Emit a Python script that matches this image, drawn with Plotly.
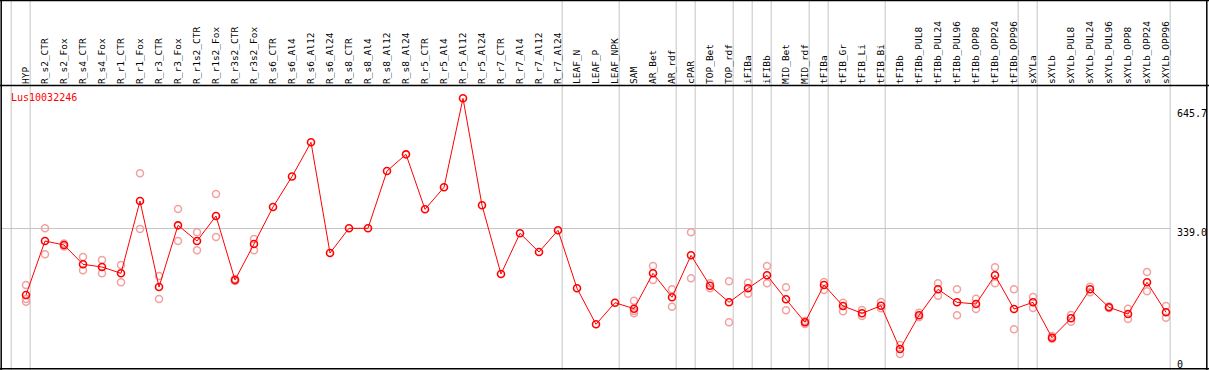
import plotly.graph_objects as go

gene = "Lus10032246"

categories = [
    "HYP", "R_s2_CTR", "R_s2_Fox", "R_s4_CTR", "R_s4_Fox", "R_r1_CTR", "R_r1_Fox",
    "R_r3_CTR", "R_r3_Fox", "R_r1s2_CTR", "R_r1s2_Fox", "R_r3s2_CTR", "R_r3s2_Fox",
    "R_s6_CTR", "R_s6_Al4", "R_s6_Al12", "R_s6_Al24", "R_s8_CTR", "R_s8_Al4",
    "R_s8_Al12", "R_s8_Al24", "R_r5_CTR", "R_r5_Al4", "R_r5_Al12", "R_r5_Al24",
    "R_r7_CTR", "R_r7_Al4", "R_r7_Al12", "R_r7_Al24", "LEAF_N", "LEAF_P", "LEAF_NPK",
    "SAM", "AR_Bet", "AR_rdf", "cPAR", "TOP_Bet", "TOP_rdf", "iFIBa", "iFIBb",
    "MID_Bet", "MID_rdf", "tFIBa", "tFIB_Gr", "tFIB_Li", "tFIB_Bi", "tFIBb",
    "tFIBb_PUL8", "tFIBb_PUL24", "tFIBb_PUL96", "tFIBb_OPP8", "tFIBb_OPP24",
    "tFIBb_OPP96", "sXYLa", "sXYLb", "sXYLb_PUL8", "sXYLb_PUL24", "sXYLb_PUL96",
    "sXYLb_OPP8", "sXYLb_OPP24", "sXYLb_OPP96",
]

means = [
    167.5, 306.7, 296.4, 246.6, 239.7, 223.4, 409.8,
    188.1, 347.1, 306.7, 371.1, 206.2, 299.0,
    394.3, 472.9, 561.1, 275.8, 339.4, 339.4,
    487.1, 530.1, 388.4, 445.1, 674.5, 398.7,
    221.6, 326.5, 278.3, 334.3, 184.8, 92.0, 147.7,
    132.2, 223.4, 161.6, 269.8, 191.5, 148.7, 184.8, 218.3,
    156.4, 97.2, 193.3, 139.2, 120.4, 139.9, 28.3,
    115.2, 182.2, 148.7, 144.3, 218.3,
    131.4, 148.7, 57.5, 107.5, 182.2, 135.8,
    118.5, 200.2, 122.9,
]

replicates = [
    [193.3, 157.2, 150.2], [339.4, 272.4], [300.2, 292.5], [265.4, 231.2],
    [257.7, 223.4], [244.8, 200.2], [481.2, 337.6], [216.5, 157.2],
    [389.2, 306.7], [329.1, 282.7], [427.8, 317.0], [208.8, 203.6],
    [311.8, 282.7],
    [], [], [], [], [], [], [], [], [], [], [], [], [], [], [], [],
    [], [], [],
    [152.8, 126.3, 120.4], [242.2, 206.2], [182.2, 137.4], [329.1, 210.6],
    [197.7, 184.8], [202.8, 97.2], [199.2, 170.9], [242.2, 197.7],
    [187.4, 128.1], [100.5, 92.8], [201.0, 180.4], [147.7, 125.5],
    [128.9, 113.4], [149.5, 133.2], [38.7, 15.5],
    [121.9, 110.0], [197.7, 165.7], [182.2, 115.2], [158.0, 131.4],
    [238.9, 197.7], [182.2, 79.1], [162.4, 134.0], [61.9, 54.1],
    [116.0, 98.7], [188.9, 174.5], [137.9, 134.0], [132.2, 105.7],
    [226.8, 177.0], [139.2, 109.0],
]

# last category index of each group (separator drawn just after it)
group_ends = [-1, 0, 28, 31, 34, 35, 37, 38, 39, 41, 42, 45, 52, 53, 60]

ref_value = 339.0
y_tickvals = [0, 339.0, 645.7]
y_ticktext = ["0", "339.0", "645.7"]

# ---- layout geometry ----
W, H = 1209, 370
ML, MR, MT, MB = 2, 38, 86, 1
PW = W - ML - MR
PH = H - MT - MB


def px_x(p):
    return (p - ML) / PW


def px_y(p):
    return (H - MB - p) / PH


idx = list(range(len(categories)))
rep_x, rep_y = [], []
for i, reps in enumerate(replicates):
    for v in reps:
        rep_x.append(i)
        rep_y.append(v)

fig = go.Figure()
fig.add_trace(go.Scatter(
    x=rep_x, y=rep_y, mode="markers",
    marker=dict(symbol="circle-open", size=7, color="#f2a0a0", line=dict(width=1.5, color="#f2a0a0")),
    hoverinfo="skip", showlegend=False,
))
fig.add_trace(go.Scatter(
    x=idx, y=means, mode="lines+markers",
    line=dict(color="#ff0000", width=1),
    marker=dict(symbol="circle-open", size=7, color="#ff0000", line=dict(width=1.6, color="#ff0000")),
    showlegend=False,
))

shapes = []
grid_col = "#c4c4c4"
for g in group_ends:
    shapes.append(dict(type="line", xref="x", yref="paper", x0=g + 0.22, x1=g + 0.22,
                       y0=px_y(H), y1=px_y(0), line=dict(color=grid_col, width=1), layer="below"))
shapes.append(dict(type="line", xref="paper", yref="y", x0=px_x(1), x1=1, y0=ref_value, y1=ref_value,
                   line=dict(color=grid_col, width=1), layer="below"))
# frame
blk = dict(color="black", width=1.5)
shapes += [
    dict(type="line", xref="paper", yref="paper", x0=px_x(0), x1=px_x(W), y0=px_y(0.5), y1=px_y(0.5), line=blk),
    dict(type="line", xref="paper", yref="paper", x0=px_x(0), x1=px_x(W), y0=px_y(368.8), y1=px_y(368.8), line=blk),
    dict(type="line", xref="paper", yref="paper", x0=px_x(0), x1=px_x(W), y0=px_y(85.5), y1=px_y(85.5), line=blk),
    dict(type="line", xref="paper", yref="paper", x0=px_x(1.2), x1=px_x(1.2), y0=px_y(0), y1=px_y(H), line=blk),
    dict(type="line", xref="paper", yref="paper", x0=px_x(1206.8), x1=px_x(1206.8), y0=px_y(0), y1=px_y(H), line=blk),
]

fig.update_layout(
    width=W, height=H,
    margin=dict(l=ML, r=MR, t=MT, b=MB, pad=0),
    paper_bgcolor="white", plot_bgcolor="white",
    font=dict(family="DejaVu Sans Mono", size=10, color="black"),
    shapes=shapes,
    annotations=[dict(text=gene, xref="paper", yref="paper", x=px_x(9), y=px_y(97),
                      xanchor="left", yanchor="middle", showarrow=False,
                      font=dict(family="DejaVu Sans Mono", size=10, color="#ff0000"))],
    xaxis=dict(
        range=[-1.263, 60.263], side="top", tickmode="array", tickvals=idx, ticktext=categories,
        tickangle=-90, ticks="", showgrid=False, zeroline=False, showline=False,
        tickfont=dict(family="DejaVu Sans Mono", size=9.5, color="black"),
        ticklabelstandoff=1,
    ),
    yaxis=dict(
        range=[-23.2, 706.2], side="right", tickmode="array", tickvals=y_tickvals, ticktext=y_ticktext,
        ticks="", showgrid=False, zeroline=False, showline=False,
        tickfont=dict(family="DejaVu Sans Mono", size=10, color="black"),
        ticklabelstandoff=5, ticklabelshift=4,
    ),
)

fig.write_html(
    "out.html",
    config={"displayModeBar": False},
    post_script="document.body.style.margin='0px';document.body.style.padding='0px';"
                "document.body.style.overflow='hidden';",
)
